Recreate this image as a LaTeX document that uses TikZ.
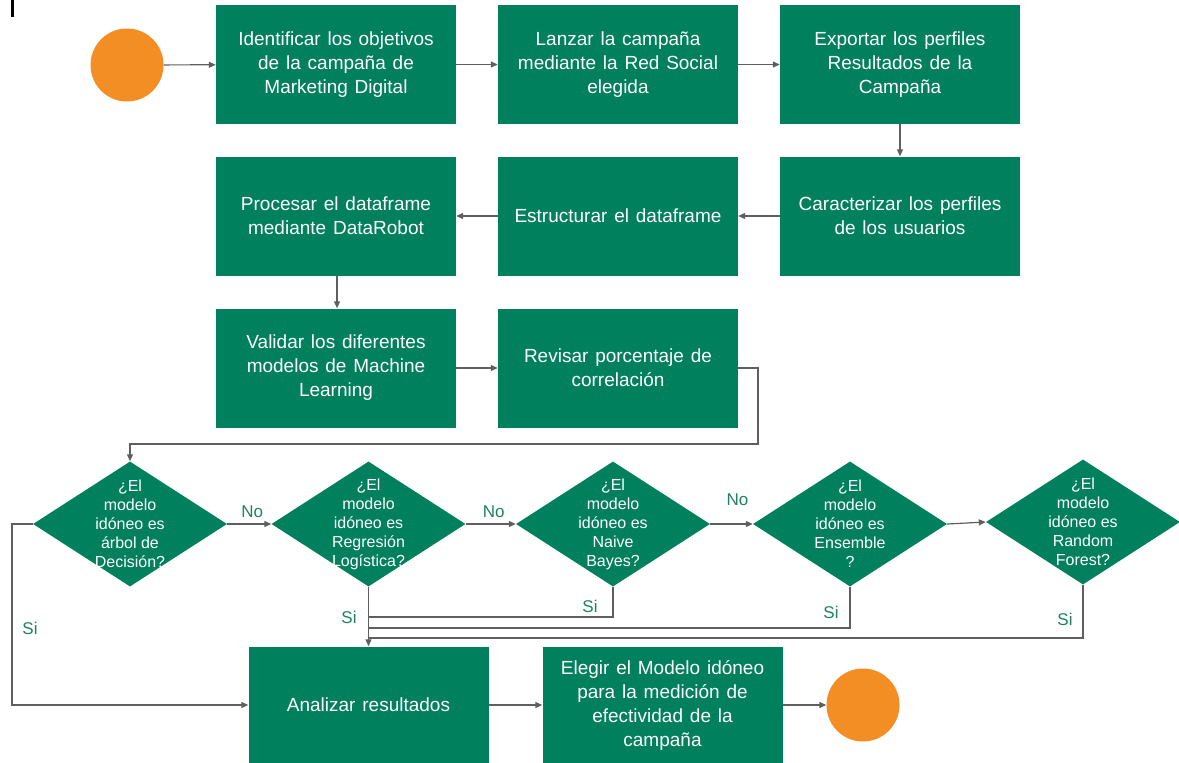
\documentclass[tikz,border=0pt]{standalone}
\usepackage{fontspec}
\setmainfont{Liberation Sans}
\usetikzlibrary{shapes.geometric,arrows.meta}
\definecolor{boxgreen}{RGB}{0,128,92}
\definecolor{dotorange}{RGB}{243,142,36}
\definecolor{linegray}{RGB}{95,95,95}
\definecolor{labelgreen}{RGB}{30,130,96}
% step text: slightly wider word spacing
\newcommand{\stepfont}{\fontsize{19}{24}\selectfont\spaceskip=0.36em plus 0.1em\relax}

\begin{document}
\begin{tikzpicture}[x=1pt,y=-1pt,
  stepbox/.style={rectangle, fill=boxgreen, text=white, minimum width=240pt,
    minimum height=119pt, inner sep=0pt, align=center, font=\stepfont},
  decision/.style={diamond, fill=boxgreen, minimum width=194pt,
    minimum height=125pt, inner sep=0pt},
  qtext/.style={text=white, align=center, inner sep=0pt,
    font=\fontsize{16}{19}\selectfont},
  terminal/.style={circle, fill=dotorange, minimum size=73pt, inner sep=0pt},
  flow/.style={draw=linegray, line width=1.2pt, -{Triangle[length=7pt,width=6pt]}},
  link/.style={draw=linegray, line width=1.2pt},
  answer/.style={text=labelgreen, inner sep=0pt, font=\fontsize{17}{20}\selectfont}
]
\useasboundingbox (0,0) rectangle (1179,763);

% small mark in the upper left corner
\draw[line width=3pt, black] (12,0) -- (12,17);

% process steps
\node[terminal] (start) at (127,65) {};
\node[stepbox] (s1) at (336,64.5) {Identificar los objetivos\\de la campaña de\\Marketing Digital};
\node[stepbox] (s2) at (618,64.5) {Lanzar la campaña\\mediante la Red Social\\elegida};
\node[stepbox] (s3) at (900,64.5) {Exportar los perfiles\\Resultados de la\\Campaña};
\node[stepbox] (s4) at (900,216) {Caracterizar los perfiles\\de los usuarios};
\node[stepbox] (s5) at (618,216) {Estructurar el dataframe};
\node[stepbox] (s6) at (336,216) {Procesar el dataframe\\mediante DataRobot};
\node[stepbox] (s7) at (336,368) {Validar los diferentes\\modelos de Machine\\Learning};
\node[stepbox] (s8) at (618,368) {Revisar porcentaje de\\correlación};
\node[stepbox, minimum height=117pt] (s9) at (368.5,705) {Analizar resultados};
\node[stepbox, minimum height=117pt] (s10) at (662.5,705) {Elegir el Modelo idóneo\\para la medición de\\efectividad de la\\campaña};
\node[terminal] (end) at (863,705) {};

% decisions
\node[decision] (d1) at (130,524) {};
\node[qtext] (q1) at (d1.center) {¿El\\modelo\\idóneo es\\árbol de\\Decisión?};
\node[decision] (d2) at (368.5,524) {};
\node[qtext] (q2) at (d2.center) {¿El\\modelo\\idóneo es\\Regresión\\Logística?};
\node[decision] (d3) at (613,524) {};
\node[qtext] (q3) at (d3.center) {¿El\\modelo\\idóneo es\\Naive\\Bayes?};
\node[decision] (d4) at (850,524) {};
\node[qtext] (q4) at (d4.center) {¿El\\modelo\\idóneo es\\Ensemble\\?};
\node[decision] (d5) at (1083,522) {};
\node[qtext] (q5) at (d5.center) {¿El\\modelo\\idóneo es\\Random\\Forest?};

% main flow
\draw[flow] (start) -- (s1);
\draw[flow] (s1) -- (s2);
\draw[flow] (s2) -- (s3);
\draw[flow] (s3) -- (s4);
\draw[flow] (s4) -- (s5);
\draw[flow] (s5) -- (s6);
\draw[flow] (s6.south -| 337,0) -- (s7.north -| 337,0);
\draw[flow] (s7) -- (s8);
\coordinate (loop) at (758,444);
\draw[flow] (s8.east) -| (loop) -| (d1.north);

% "No" branches
\draw[flow] (d1.east) -- node[answer, above=6pt, xshift=3pt] (no1) {No} (d2.west);
\draw[flow] (d2.east) -- node[answer, above=6pt, xshift=3pt] (no2) {No} (d3.west);
\draw[flow] (d3.east) -- node[answer, above=18pt, xshift=6pt] (no3) {No} (d4.west);
\draw[flow] (d4.east) -- (d5.west);

% "Si" branches
\coordinate (rail) at (12,600);
\draw[flow] (d1.west) -| (rail) |- (s9.west);
\draw[flow] (d2.south) -- (s9.north);
\coordinate (j3) at (368.5,617);
\coordinate (j4) at (368.5,628);
\coordinate (j5) at (368.5,638);
\draw[link] (d3.south) |- (j3);
\draw[link] (d4.south) |- (j4);
\draw[link] (d5.south) |- (j5);
\node[answer] (si1) at (30,628) {Si};
\node[answer] (si2) at (349,617) {Si};
\node[answer] (si3) at (590,606) {Si};
\node[answer] (si4) at (831,612) {Si};
\node[answer] (si5) at (1065,619) {Si};

% closing steps
\draw[flow] (s9) -- (s10);
\draw[flow] (s10) -- (end);
\end{tikzpicture}
\end{document}
